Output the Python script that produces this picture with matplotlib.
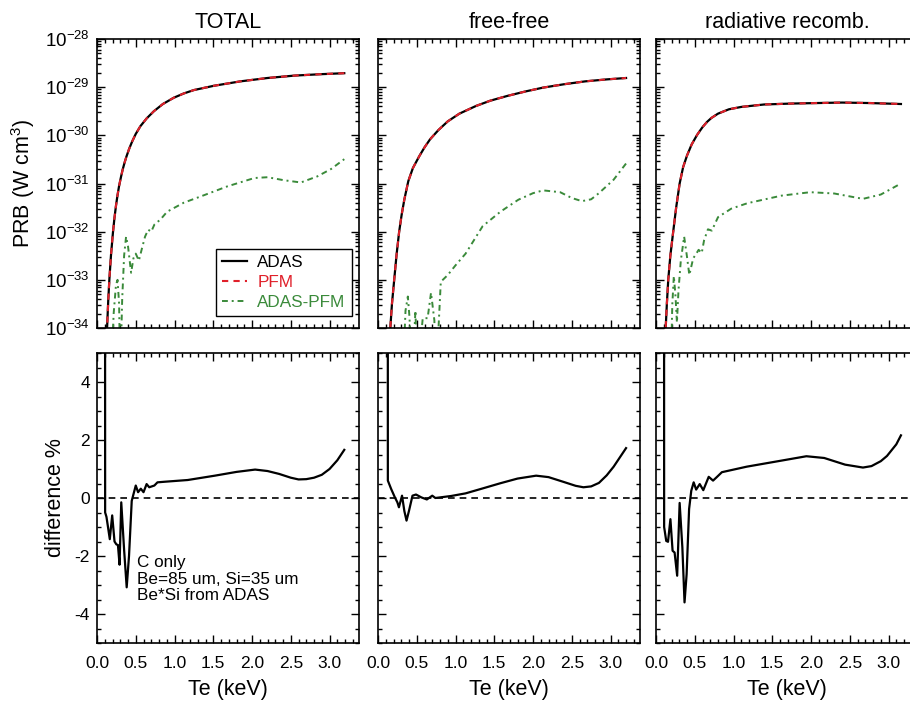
import numpy as np
import matplotlib
matplotlib.use("Agg")
import matplotlib.pyplot as plt
from matplotlib.ticker import MultipleLocator, LogLocator, FuncFormatter, FormatStrFormatter, NullFormatter

plt.rcParams['font.family'] = ['Liberation Sans', 'DejaVu Sans']
plt.rcParams['mathtext.fontset'] = 'custom'
plt.rcParams['mathtext.rm'] = 'Liberation Sans'
plt.rcParams['mathtext.it'] = 'Liberation Sans:italic'
plt.rcParams['axes.unicode_minus'] = False

RED = '#e0202a'
GREEN = '#3a8a3a'

panel_titles = ['TOTAL', 'free-free', 'radiative recomb.']

# ---- PRB (W cm^3) ----
te_total = [0.12, 0.13, 0.145, 0.16, 0.18, 0.205, 0.225, 0.245, 0.265, 0.285, 0.31, 0.33, 0.355,
            0.38, 0.415, 0.453, 0.50, 0.56, 0.64, 0.733, 0.85, 0.99, 1.12, 1.25, 1.51, 1.85,
            2.2, 2.55, 2.89, 3.19]
adas_total = [2.5e-35, 1.0e-34, 3.7e-34, 1.05e-33, 3.16e-33, 9.33e-33, 1.91e-32, 3.47e-32,
              5.75e-32, 8.9e-32, 1.38e-31, 1.91e-31, 2.69e-31, 3.63e-31, 5.25e-31, 7.41e-31,
              1.07e-30, 1.55e-30, 2.24e-30, 3.16e-30, 4.47e-30, 6.03e-30, 7.41e-30, 8.71e-30,
              1.07e-29, 1.32e-29, 1.55e-29, 1.74e-29, 1.86e-29, 1.95e-29]
# PFM coincides with ADAS on this scale
pfm_total = list(adas_total)

te_ff = [0.14, 0.159, 0.18, 0.209, 0.24, 0.273, 0.305, 0.34, 0.391, 0.45, 0.53, 0.6, 0.673,
         0.78, 0.9, 1.05, 1.264, 1.45, 1.673, 1.9, 2.127, 2.4, 2.673, 2.95, 3.2]
adas_ff = [2.0e-35, 1.0e-34, 3.16e-34, 1.0e-33, 3.39e-33, 1.0e-32, 2.24e-32, 4.68e-32, 1.12e-31,
           2.09e-31, 3.63e-31, 5.62e-31, 8.32e-31, 1.29e-30, 1.95e-30, 2.82e-30, 4.07e-30,
           5.25e-30, 6.61e-30, 8.13e-30, 9.77e-30, 1.15e-29, 1.32e-29, 1.45e-29, 1.55e-29]
pfm_ff = list(adas_ff)

te_rr = [0.105, 0.125, 0.14, 0.158, 0.185, 0.222, 0.26, 0.305, 0.35, 0.40, 0.46, 0.53, 0.6,
         0.66, 0.714, 0.8, 0.94, 1.1, 1.395, 1.75, 2.077, 2.4, 2.76, 3.16]
adas_rr = [2.0e-35, 1.0e-34, 3.16e-34, 1.0e-33, 3.16e-33, 1.0e-32, 3.16e-32, 1.0e-31, 2.19e-31,
           3.8e-31, 6.46e-31, 1.02e-30, 1.48e-30, 1.91e-30, 2.29e-30, 2.82e-30, 3.47e-30,
           3.89e-30, 4.37e-30, 4.57e-30, 4.68e-30, 4.79e-30, 4.68e-30, 4.47e-30]
pfm_rr = list(adas_rr)

# ADAS-PFM (values below 1e-34 fall off the bottom of the plot)
te_dtotal = [0.18, 0.215, 0.245, 0.265, 0.285, 0.30, 0.325, 0.35, 0.375, 0.40, 0.44, 0.47, 0.50,
             0.54, 0.58, 0.62, 0.66, 0.70, 0.74, 0.82, 0.905, 1.12, 1.34, 1.68, 2.03, 2.2, 2.41,
             2.63, 2.84, 3.02, 3.19]
dif_total = [1e-35, 2.0e-34, 7.9e-34, 1.0e-33, 3.2e-34, 1e-35, 4.0e-34, 3.2e-33, 7.9e-33, 5.0e-33,
             1.4e-33, 2.8e-33, 3.5e-33, 2.5e-33, 4.5e-33, 7.9e-33, 1.1e-32, 1.0e-32, 1.4e-32,
             1.8e-32, 2.6e-32, 4.0e-32, 5.4e-32, 8.7e-32, 1.3e-31, 1.35e-31, 1.17e-31, 1.05e-31,
             1.4e-31, 2.0e-31, 3.2e-31]

te_dff = [0.32, 0.355, 0.385, 0.406, 0.44, 0.483, 0.51, 0.577, 0.64, 0.684, 0.727, 0.75, 0.81,
          0.9, 1.0, 1.13, 1.35, 1.58, 1.81, 2.0, 2.13, 2.35, 2.5, 2.63, 2.75, 2.85, 3.04, 3.2]
dif_ff = [1e-35, 2.3e-34, 4.5e-34, 1.7e-34, 1e-35, 2.3e-34, 1e-35, 1.6e-34, 1.6e-34, 5.4e-34,
          1.45e-34, 1e-35, 9.1e-34, 1.26e-33, 2.0e-33, 3.5e-33, 1.3e-32, 2.6e-32, 4.6e-32,
          6.3e-32, 7.2e-32, 6.6e-32, 5.0e-32, 4.3e-32, 4.7e-32, 6.3e-32, 1.2e-31, 2.6e-31]

te_drr = [0.19, 0.21, 0.23, 0.25, 0.27, 0.29, 0.32, 0.363, 0.40, 0.43, 0.48, 0.52, 0.55, 0.59,
          0.62, 0.67, 0.72, 0.80, 0.97, 1.18, 1.62, 1.99, 2.3, 2.67, 2.9, 3.16]
dif_rr = [1e-35, 3.0e-34, 1.2e-33, 5.0e-34, 1.3e-34, 6.0e-34, 2.5e-33, 7.9e-33, 3.0e-33, 1.26e-33,
          2.8e-33, 3.5e-33, 4.2e-33, 3.6e-33, 6.6e-33, 1.12e-32, 1.05e-32, 2.0e-32, 3.0e-32,
          3.9e-32, 5.6e-32, 6.6e-32, 6.2e-32, 4.8e-32, 5.9e-32, 1.0e-31]

# ---- difference % ----
te_pct_total = [0.10, 0.105, 0.122, 0.139, 0.165, 0.196, 0.226, 0.25, 0.27, 0.291, 0.313, 0.35,
                0.383, 0.413, 0.448, 0.5, 0.53, 0.565, 0.6, 0.64, 0.674, 0.74, 0.78, 0.87, 1.17,
                1.52, 1.8, 2.04, 2.2, 2.35, 2.5, 2.6, 2.7, 2.8, 2.9, 3.0, 3.1, 3.19]
pct_total = [40, -0.5, -0.65, -0.95, -1.42, -0.6, -1.5, -1.6, -1.62, -2.3, -0.15, -1.8, -3.08,
             -2.0, -0.1, 0.43, 0.2, 0.32, 0.2, 0.48, 0.37, 0.43, 0.54, 0.56, 0.62, 0.77, 0.9,
             0.98, 0.93, 0.83, 0.7, 0.64, 0.65, 0.7, 0.8, 1.0, 1.3, 1.66]

te_pct_ff = [0.125, 0.127, 0.17, 0.218, 0.25, 0.27, 0.31, 0.34, 0.368, 0.4, 0.445, 0.49, 0.56,
             0.63, 0.7, 0.74, 0.945, 1.13, 1.35, 1.58, 1.8, 2.04, 2.2, 2.4, 2.55, 2.65, 2.75,
             2.85, 2.95, 3.04, 3.12, 3.2]
pct_ff = [40, 0.6, 0.31, 0.02, -0.15, -0.32, 0.08, -0.45, -0.78, -0.44, 0.08, 0.12, 0.02, -0.05,
          0.08, 0.0, 0.07, 0.16, 0.33, 0.51, 0.67, 0.77, 0.72, 0.55, 0.42, 0.37, 0.4, 0.52, 0.78,
          1.08, 1.4, 1.72]

te_pct_rr = [0.10, 0.105, 0.132, 0.155, 0.186, 0.214, 0.24, 0.273, 0.305, 0.34, 0.368, 0.395,
             0.427, 0.455, 0.486, 0.518, 0.564, 0.61, 0.68, 0.736, 0.78, 0.85, 1.17, 1.62, 1.94,
             2.17, 2.44, 2.67, 2.78, 2.9, 2.98, 3.1, 3.16]
pct_rr = [40, -1.0, -1.48, -1.51, -0.73, -1.82, -1.88, -2.68, -0.17, -1.7, -3.6, -2.63, -0.38,
          0.25, 0.54, 0.29, 0.48, 0.27, 0.73, 0.6, 0.71, 0.89, 1.08, 1.29, 1.44, 1.38, 1.15, 1.05,
          1.1, 1.27, 1.45, 1.85, 2.16]

top_data = [(te_total, adas_total, pfm_total, te_dtotal, dif_total),
            (te_ff, adas_ff, pfm_ff, te_dff, dif_ff),
            (te_rr, adas_rr, pfm_rr, te_drr, dif_rr)]
bottom_data = [(te_pct_total, pct_total), (te_pct_ff, pct_ff), (te_pct_rr, pct_rr)]

W, H = 910, 702
fig = plt.figure(figsize=(W / 100, H / 100), dpi=100)


def px_rect(left, top, w, h):
    return [left / W, 1 - (top + h) / H, w / W, h / H]


lefts = [97, 378, 656]
XMAX = 3.38


def style_axis(ax):
    ax.set_xlim(0, XMAX)
    ax.xaxis.set_major_locator(MultipleLocator(0.5))
    ax.xaxis.set_minor_locator(MultipleLocator(0.1))
    ax.tick_params(which='both', direction='in', top=True, right=True, width=1.0,
                   labelsize=12.5, pad=5)
    ax.tick_params(which='major', length=6)
    ax.tick_params(which='minor', length=3)
    ax.tick_params(axis='x', pad=9)
    for s in ax.spines.values():
        s.set_linewidth(1.2)


def log_label(v, pos):
    return r'$\mathregular{10^{%d}}$' % int(round(np.log10(v)))


for i in range(3):
    te, adas, pfm, te_d, dif = top_data[i]
    ax = fig.add_axes(px_rect(lefts[i], 39, 262, 289))
    style_axis(ax)
    ax.set_yscale('log')
    ax.set_ylim(1e-34, 1e-28)
    ax.yaxis.set_major_locator(LogLocator(base=10, numticks=10))
    ax.yaxis.set_minor_locator(LogLocator(base=10, subs=np.arange(2, 10), numticks=20))
    ax.yaxis.set_minor_formatter(NullFormatter())
    ax.plot(te, adas, color='black', lw=1.6, label='ADAS')
    ax.plot(te, pfm, color=RED, lw=1.5, dashes=(3, 2.5), label='PFM')
    ax.plot(te_d, dif, color=GREEN, lw=1.4, dashes=(3, 2, 1, 2), label='ADAS-PFM')
    ax.tick_params(axis='x', labelbottom=False)
    ax.set_title(panel_titles[i], fontsize=15.5, pad=8)
    if i == 0:
        ax.yaxis.set_major_formatter(FuncFormatter(log_label))
        ax.tick_params(axis='y', labelsize=13.5)
        ax.set_ylabel(r'PRB (W cm$^\mathregular{3}$)', fontsize=15.5)
        ax.yaxis.set_label_coords(-0.23, 0.5)
        leg = ax.legend(loc='lower right', bbox_to_anchor=(0.972, 0.042), fontsize=12.3,
                        frameon=True, fancybox=False, edgecolor='black', framealpha=1,
                        handlelength=1.5, handletextpad=0.6, borderpad=0.35,
                        labelspacing=0.3, labelcolor='linecolor', borderaxespad=0)
        leg.get_frame().set_linewidth(1.0)
    else:
        ax.tick_params(axis='y', labelleft=False)

for i in range(3):
    te, pct = bottom_data[i]
    ax = fig.add_axes(px_rect(lefts[i], 353, 262, 290))
    style_axis(ax)
    ax.set_ylim(-5, 5)
    ax.yaxis.set_major_locator(MultipleLocator(2))
    ax.yaxis.set_minor_locator(MultipleLocator(0.5))
    ax.xaxis.set_major_formatter(FormatStrFormatter('%.1f'))
    ax.axhline(0, color='black', lw=1.2, dashes=(4, 3))
    ax.plot(te, pct, color='black', lw=1.6)
    ax.set_xlabel('Te (keV)', fontsize=15.5, labelpad=6)
    if i == 0:
        ax.set_ylabel('difference %', fontsize=15.5)
        ax.yaxis.set_label_coords(-0.12, 0.5)
        ax.text(0.51, -1.98, 'C only\nBe=85 um, Si=35 um\nBe*Si from ADAS',
                fontsize=12.3, va='top', ha='left', linespacing=1.1)
    else:
        ax.tick_params(axis='y', labelleft=False)

fig.savefig('out.png', dpi=100)
